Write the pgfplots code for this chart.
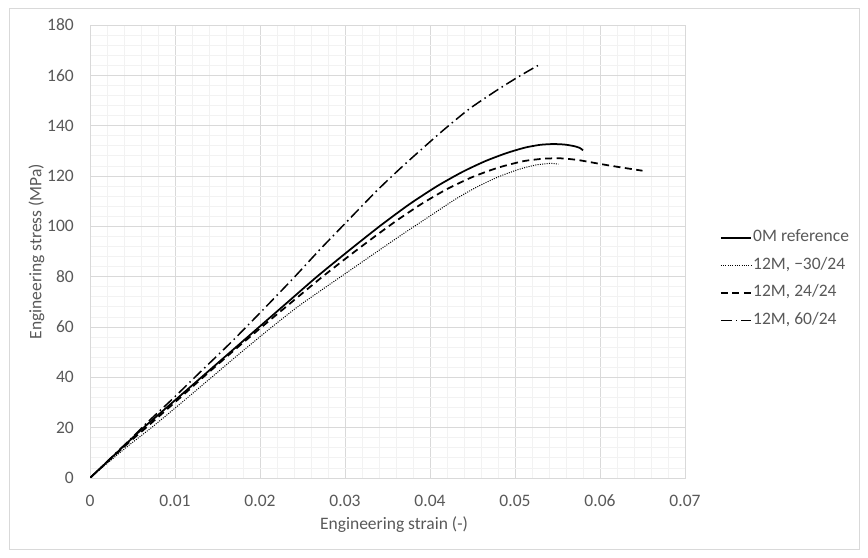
\documentclass[border=0pt]{standalone}
\usepackage{fontspec}
\setmainfont{Carlito}
\usepackage{pgfplots}
\pgfplotsset{compat=1.18}
\definecolor{majgray}{RGB}{217,217,217}
\definecolor{mingray}{RGB}{242,242,242}
\definecolor{txtgray}{RGB}{89,89,89}
\newcommand{\chartfont}{\fontsize{17.5bp}{21bp}\selectfont}
\begin{document}
\begin{tikzpicture}
\useasboundingbox (0bp,0bp) rectangle (868bp,558bp);
\fill[white] (0bp,0bp) rectangle (868bp,558bp);
\draw[majgray, line width=0.75bp] (9.5bp,8.5bp) rectangle (859.5bp,549.5bp);
\begin{axis}[
  at={(90bp,80bp)}, anchor=south west,
  scale only axis, width=595bp, height=453bp,
  xmin=0, xmax=0.07, ymin=0, ymax=180,
  scaled x ticks=false, scaled y ticks=false,
  xtick={0,0.01,0.02,0.03,0.04,0.05,0.06,0.07},
  xticklabels={0,0.01,0.02,0.03,0.04,0.05,0.06,0.07},
  ytick={0,20,40,60,80,100,120,140,160,180},
  yticklabels={0,20,40,60,80,100,120,140,160,180},
  minor x tick num=4, minor y tick num=4,
  grid=both,
  major grid style={majgray, line width=0.75bp},
  minor grid style={mingray, line width=0.75bp},
  axis line style={majgray, line width=0.75bp},
  major tick length=0pt, minor tick length=0pt,
  ticklabel style={font=\chartfont, text=txtgray},
  xticklabel style={anchor=center, yshift=-23bp},
  yticklabel style={anchor=east, inner sep=0pt, xshift=-16bp},
  xlabel={Engineering strain (-)},
  ylabel={Engineering stress (MPa)},
  label style={font=\chartfont, text=txtgray},
  xlabel style={at={(axis description cs:0.511,-0.1038)}, anchor=center},
  ylabel style={at={(axis description cs:-0.0899,0.5)}, anchor=center},
  legend style={at={(axis description cs:1.0588,0.4389)}, anchor=west,
    draw=none, fill=none, inner sep=0pt, outer sep=0pt,
    font=\chartfont, row sep=13.6bp, column sep=0pt,
    nodes={inner xsep=1.5bp, inner ysep=0pt, text height=11bp, text depth=3bp, text=txtgray}},
  legend cell align=left,
  legend image code/.code={\draw[#1] (0bp,0bp) -- (30bp,0bp);},
]
\addplot[black, line width=1.75bp, smooth, tension=0.4] coordinates {
(0,0) (0.002,6.4) (0.0042,13.4) (0.0063,20) (0.0097,30) (0.0131,40) (0.0165,50)
(0.0199,60) (0.0233,70) (0.0267,80) (0.0304,90.2) (0.0341,100.1) (0.0375,108.6)
(0.0408,115.9) (0.0438,121.6) (0.0465,125.9) (0.0490,129.1) (0.0512,131.3)
(0.0530,132.4) (0.0545,132.7) (0.0558,132.5) (0.0569,131.9) (0.0576,131.2) (0.0580,130.2)
};
\addlegendentry{0M reference}
\addplot[black, line width=1bp, dash pattern=on 1bp off 1.3bp, smooth, tension=0.4] coordinates {
(0,0) (0.002,5.8) (0.0045,12.8) (0.0073,20.2) (0.0108,30) (0.0143,40) (0.0178,50)
(0.0214,60) (0.0245,68.2) (0.0275,75.3) (0.0308,83.0) (0.0341,90.7) (0.0370,97.4)
(0.0400,104.1) (0.0430,110.8) (0.0455,115.6) (0.0480,119.6) (0.0505,122.7)
(0.0525,124.4) (0.0541,125.0) (0.0551,124.7)
};
\addlegendentry{12M, −30/24}
\addplot[black, line width=1.75bp, dash pattern=on 7bp off 4.5bp, smooth, tension=0.4] coordinates {
(0,0) (0.002,6.3) (0.0045,13.9) (0.0066,20) (0.0100,30.1) (0.0133,40) (0.0167,50)
(0.0202,60) (0.0237,69.8) (0.0271,79.3) (0.0300,87.0) (0.0330,94.7) (0.0360,102.1)
(0.0390,108.9) (0.0420,114.8) (0.0450,119.6) (0.0480,123.3) (0.0510,125.9)
(0.0535,126.9) (0.0555,127.0) (0.0575,126.3) (0.0600,124.8) (0.0625,123.4) (0.0650,122.1)
};
\addlegendentry{12M, 24/24}
\addplot[black, line width=1.5bp, dash pattern=on 11bp off 4bp on 1.5bp off 4bp, smooth, tension=0.4] coordinates {
(0,0) (0.002,6.5) (0.0045,14.6) (0.0070,22.9) (0.0098,31.7) (0.0130,42.2) (0.0165,53.6)
(0.0200,65.6) (0.0239,79.3) (0.0270,90.6) (0.0300,101.1) (0.0337,114.0) (0.0365,123.0)
(0.0390,130.6) (0.0416,138.3) (0.0446,146.6) (0.0477,153.7) (0.0500,158.6)
(0.0515,161.6) (0.0527,163.9)
};
\addlegendentry{12M, 60/24}
\end{axis}
\end{tikzpicture}
\end{document}
